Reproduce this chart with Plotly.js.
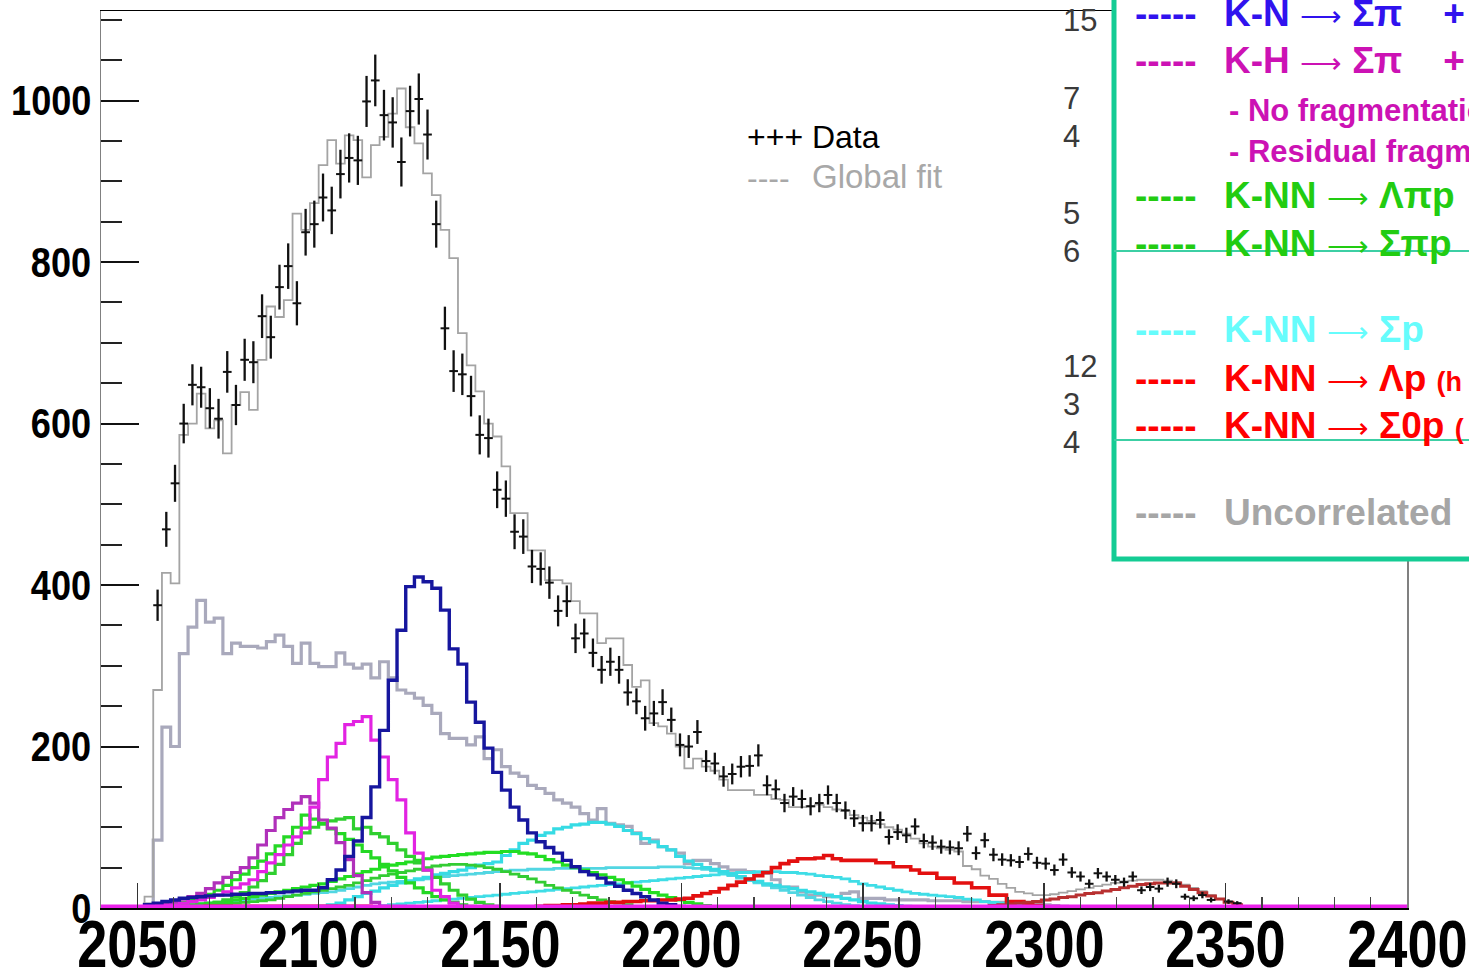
<!DOCTYPE html>
<html>
<head>
<meta charset="utf-8">
<script src="https://cdn.plot.ly/plotly-3.0.1.min.js"></script>
<style>
  html, body { margin: 0; padding: 0; background: #ffffff; overflow: hidden; }
  #plot { width: 1469px; height: 973px; }
</style>
</head>
<body>
<div id="plot"></div>
<script>
// Invariant-mass histograms: 150 bins of 2.4 MeV starting at 2040 MeV.
const BIN_LO = 2040;
const BIN_W = 2.4;

// Measured counts (first bin index = dataStart)
const dataStart = 6;
const dataCounts = [
  375, 469, 526, 600, 648, 645, 619, 606, 664, 623, 679, 676, 733, 707, 769, 795,
  749, 837, 847, 880, 864, 909, 929, 926, 999, 1025, 982, 973, 924, 987, 1002, 958,
  847, 718, 665, 661, 634, 586, 582, 518, 507, 466, 460, 423, 420, 403, 368, 380,
  334, 340, 316, 295, 305, 295, 267, 256, 235, 241, 255, 233, 202, 200, 218, 182,
  179, 163, 166, 175, 176, 189, 152, 147, 130, 138, 135, 126, 130, 140, 130, 121,
  111, 105, 105, 109, 88, 94, 90, 101, 83, 81, 76, 75, 74, 92, 68, 84,
  66, 60, 59, 57, 67, 56, 55, 47, 60, 44, 39, 30, 43, 39, 35, 32,
  39, 22, 26, 24, 32, 30, 14, 12, 16, 10, 2, 8, 6, 2
];

// Global fit
const fitStart = 5;
const fitCounts = [
  14, 270, 415, 402, 586, 600, 637, 594, 604, 563, 623, 639, 617, 679, 745, 732,
  753, 860, 840, 873, 920, 951, 922, 957, 951, 905, 945, 955, 984, 1015, 967, 947,
  910, 883, 840, 805, 712, 672, 640, 600, 584, 547, 489, 489, 443, 443, 406, 406,
  402, 380, 365, 365, 328, 334, 334, 301, 274, 282, 229, 225, 216, 200, 173, 185,
  175, 170, 159, 146, 146, 146, 140, 140, 135, 134, 125, 125, 126, 128, 125, 122,
  120, 115, 112, 108, 104, 100, 97, 92, 86, 80, 76, 74, 72, 70, 52, 48,
  40, 36, 30, 25, 20, 18, 16, 16, 17, 19, 21, 23, 25, 27, 29, 31,
  33, 34, 35, 35, 35, 34, 32, 29, 25, 21, 16, 11, 7, 3, 1
];

// Uncorrelated background
const uncorrStart = 5;
const uncorrCounts = [
  5, 84, 224, 200, 315, 348, 381, 354, 359, 315, 328, 324, 324, 322, 330, 338,
  324, 303, 328, 303, 299, 299, 316, 302, 297, 302, 285, 305, 285, 270, 266, 260,
  251, 241, 216, 210, 210, 202, 212, 185, 196, 175, 167, 163, 152, 148, 142, 134,
  130, 125, 117, 109, 123, 105, 103, 101, 93, 80, 84, 76, 72, 68, 55, 59,
  59, 55, 51, 47, 47, 45, 43, 43, 35, 26, 26, 20, 16, 16, 14, 14,
  18, 20, 12, 12, 12, 10, 10, 10, 10, 10, 9, 9, 9, 9, 8, 8,
  8, 7, 7, 6, 6, 5, 5, 4, 3, 2, 1
];

// K-N -> Sigma pi
const knStart = 5;
const knCounts = [
  4, 6, 8, 10, 12, 13, 14, 15, 16, 16, 17, 17, 18, 18, 19, 19,
  20, 21, 22, 22, 25, 35, 47, 64, 83, 112, 150, 220, 282, 344, 398, 410,
  404, 396, 369, 321, 302, 255, 230, 198, 168, 146, 125, 109, 93, 82, 75, 68,
  59, 51, 45, 41, 37, 31, 27, 22, 18, 14, 10, 6, 4, 2, 1
];

// K-H -> Sigma pi, no fragmentation
const khNoFragStart = 5;
const khNoFragCounts = [
  1, 2, 3, 4, 6, 8, 10, 13, 16, 20, 25, 30, 35, 45, 56, 66,
  78, 88, 99, 125, 159, 187, 204, 227, 231, 237, 208, 187, 159, 134, 93, 68,
  47, 22, 14, 6, 2
];

// K-H -> Sigma pi, residual fragment
const khResFragStart = 5;
const khResFragCounts = [
  2, 4, 6, 8, 11, 14, 18, 24, 31, 38, 44, 50, 62, 78, 96, 112,
  122, 130, 138, 130, 109, 99, 81, 60, 40, 19, 7, 2
];

// K-NN -> Lambda pi p
const knnLpipStart = 6;
const knnLpipCounts = [
  2, 3, 5, 7, 10, 13, 17, 22, 28, 35, 42, 50, 58, 67, 77, 88,
  100, 115, 110, 104, 98, 92, 85, 78, 70, 62, 54, 46, 38, 31, 25, 19,
  14, 10, 7, 4, 2, 1
];

// K-NN -> Sigma pi p
const knnSpipStart = 10;
const knnSpipCounts = [
  2, 3, 5, 7, 10, 14, 19, 26, 34, 43, 54, 66, 80, 93, 100, 105,
  108, 110, 112, 98, 100, 92, 88, 80, 72, 64, 56, 47, 38, 30, 22, 16,
  11, 7, 4, 2, 1
];

// K-NN -> Lambda pi p (broad)
const knnLpipBroadStart = 8;
const knnLpipBroadCounts = [
  2, 3, 4, 5, 6, 7, 8, 10, 12, 14, 16, 18, 20, 22, 24, 26,
  28, 30, 33, 36, 39, 42, 45, 48, 51, 53, 55, 57, 59, 61, 63, 64,
  65, 66, 67, 68, 69, 69, 70, 70, 68, 67, 64, 60, 57, 53, 50, 47,
  44, 41, 38, 35, 31, 27, 23, 19, 16, 13, 10, 7, 5, 3, 1
];

// K-NN -> Sigma pi p (broad)
const knnSpipBroadStart = 10;
const knnSpipBroadCounts = [
  1, 2, 3, 4, 5, 6, 7, 8, 9, 10, 12, 14, 16, 18, 20, 22,
  24, 26, 28, 31, 34, 37, 40, 42, 44, 46, 48, 50, 52, 53, 54, 54,
  53, 52, 50, 48, 45, 42, 39, 36, 32, 28, 25, 22, 19, 16, 13, 10,
  8, 6, 4, 2, 1
];

// K-NN -> Sigma p
const knnSpStart = 25;
const knnSpCounts = [
  2, 4, 6, 10, 14, 18, 21, 25, 28, 31, 33, 36, 38, 41, 43, 45,
  47, 50, 53, 55, 57, 65, 72, 80, 84, 90, 93, 98, 100, 103, 104, 106,
  106, 104, 101, 96, 92, 86, 82, 76, 72, 64, 58, 54, 50, 48, 45, 42,
  39, 36, 33, 30, 28, 26, 24, 22, 20, 18, 16, 14, 12, 10, 8, 6,
  5, 4, 3, 2, 1
];

// K-NN -> Sigma p (second component)
const knnSp2Start = 8;
const knnSp2Counts = [
  2, 3, 4, 5, 6, 7, 8, 9, 10, 11, 12, 13, 14, 15, 16, 17,
  18, 19, 20, 22, 24, 26, 28, 30, 31, 32, 33, 34, 35, 36, 38, 39,
  40, 41, 42, 43, 44, 45, 46, 47, 47, 48, 48, 48, 49, 49, 49, 49,
  49, 49, 50, 50, 50, 50, 50, 50, 51, 51, 51, 50, 49, 48, 46, 43,
  40, 37, 34, 31, 28, 25, 22, 19, 16, 13, 10, 8, 6, 4, 3, 2, 1
];

// K-NN -> Sigma p (high-mass component)
const knnSp3Start = 30;
const knnSp3Counts = [
  1, 2, 3, 4, 5, 6, 7, 8, 9, 10, 11, 12, 13, 14, 15, 16,
  17, 18, 19, 20, 21, 22, 23, 24, 25, 26, 27, 28, 29, 30, 31, 32,
  33, 34, 35, 36, 37, 38, 39, 40, 41, 42, 43, 44, 44, 45, 45, 45,
  44, 44, 43, 42, 40, 39, 38, 36, 33, 30, 28, 26, 24, 22, 20, 18,
  17, 16, 15, 14, 13, 11, 10, 8, 7, 6, 5, 4, 3, 3, 2, 2, 1, 1
];

// K-NN -> Lambda p
const knnLpStart = 50;
const knnLpCounts = [
  2, 3, 3, 4, 4, 5, 6, 6, 7, 7, 8, 8, 9, 9, 10, 10,
  11, 12, 15, 18, 20, 24, 28, 32, 36, 40, 44, 50, 55, 58, 61, 61,
  62, 65, 61, 59, 59, 59, 59, 56, 56, 51, 51, 47, 43, 43, 37, 37,
  31, 31, 25, 25, 16, 16, 8, 8, 5, 3, 1
];

// K-NN -> Sigma0 p
const knnS0pStart = 100;
const knnS0pCounts = [
  1, 2, 3, 4, 5, 6, 7, 8, 10, 11, 13, 14, 16, 18, 19, 21,
  23, 25, 27, 29, 30, 31, 31, 31, 27, 23, 19, 15, 11, 7, 4, 2, 1
];

// K-NN -> Lambda p, low-mass tail
const knnLpLowStart = 6;
const knnLpLowCounts = [
  1, 1, 1, 1, 1, 1, 2, 2, 2, 2, 2, 2, 2, 2, 2, 2,
  2, 2, 2, 2, 2, 2, 2, 2, 2, 1, 1, 1
];

// K-H -> Sigma pi, zero-valued over the whole range
const khZeroStart = 0;
const khZeroCounts = [
  0,0,0,0,0,0,0,0,0,0,0,0,0,0,0,0,0,0,0,0,0,0,0,0,0,0,0,0,0,0,
  0,0,0,0,0,0,0,0,0,0,0,0,0,0,0,0,0,0,0,0,0,0,0,0,0,0,0,0,0,0,
  0,0,0,0,0,0,0,0,0,0,0,0,0,0,0,0,0,0,0,0,0,0,0,0,0,0,0,0,0,0,
  0,0,0,0,0,0,0,0,0,0,0,0,0,0,0,0,0,0,0,0,0,0,0,0,0,0,0,0,0,0,
  0,0,0,0,0,0,0,0,0,0,0,0,0,0,0,0,0,0,0,0,0,0,0,0,0,0,0,0,0,0
];

// Axis tick labels
const xTickVals = [2050, 2100, 2150, 2200, 2250, 2300, 2350, 2400];
const yTickVals = [0, 200, 400, 600, 800, 1000];

// ---------- helpers ----------
const edge = k => BIN_LO + k * BIN_W;
const center = k => BIN_LO + (k + 0.5) * BIN_W;

function histTrace(start, counts, color, width) {
  const xs = [edge(start)], ys = [0];
  counts.forEach((c, i) => { xs.push(edge(start + i)); ys.push(c); });
  xs.push(edge(start + counts.length)); ys.push(counts[counts.length - 1]);
  xs.push(edge(start + counts.length)); ys.push(0);
  return {
    type: 'scatter', mode: 'lines', x: xs, y: ys,
    line: { shape: 'hv', color: color, width: width },
    hoverinfo: 'skip', showlegend: false
  };
}

const traces = [
  histTrace(uncorrStart, uncorrCounts, '#a9a9bc', 3.2),
  histTrace(fitStart, fitCounts, '#a4a4a4', 1.8),
  histTrace(knnSp2Start, knnSp2Counts, '#52d6e2', 2.8),
  histTrace(knnSp3Start, knnSp3Counts, '#3fdde6', 2.8),
  histTrace(knnSpStart, knnSpCounts, '#36dbe4', 3.2),
  histTrace(knnSpipBroadStart, knnSpipBroadCounts, '#33cc33', 2.8),
  histTrace(knnLpipBroadStart, knnLpipBroadCounts, '#22dd22', 3.2),
  histTrace(knnSpipStart, knnSpipCounts, '#2fcf2f', 3.2),
  histTrace(knnLpipStart, knnLpipCounts, '#24d824', 3.2),
  histTrace(knnLpLowStart, knnLpLowCounts, '#ee1111', 4),
  histTrace(knnLpStart, knnLpCounts, '#e31010', 3.6),
  histTrace(knnS0pStart, knnS0pCounts, '#b83030', 3),
  histTrace(khResFragStart, khResFragCounts, '#b030ba', 3.2),
  histTrace(khNoFragStart, khNoFragCounts, '#e223e2', 3.2),
  histTrace(knStart, knCounts, '#16169e', 3.4)
];

// Data points with Poisson errors
const dataX = dataCounts.map((_, i) => center(dataStart + i));
traces.push({
  type: 'scatter', mode: 'markers', x: dataX, y: dataCounts,
  marker: { size: 2, color: '#111111' },
  error_y: { type: 'data', array: dataCounts.map(c => Math.sqrt(c)), color: '#111111', thickness: 2.3, width: 0 },
  error_x: { type: 'constant', value: BIN_W / 2, color: '#111111', thickness: 2, width: 0 },
  hoverinfo: 'skip', showlegend: false
});

traces.push(histTrace(khZeroStart, khZeroCounts, '#ea22ea', 7));

// ---------- layout ----------
const W = 1469, H = 973;
const M = { l: 101, r: 62, t: 11, b: 65 };
const PW = W - M.l - M.r, PH = H - M.t - M.b;
const px = x => (x - M.l) / PW;
const py = y => (H - M.b - y) / PH;

const sansFont = 'Liberation Sans, Arial, Helvetica, sans-serif';

function note(text, x, y, color, size, anchor) {
  return {
    text: text, xref: 'paper', yref: 'paper', x: px(x), y: py(y),
    xanchor: anchor || 'left', yanchor: 'middle', showarrow: false,
    font: { family: sansFont, size: size, color: color }
  };
}

const annotations = [];
// Bold, horizontally condensed tick labels (condensed after drawing)
const condensed = [];
xTickVals.forEach(v => {
  condensed.push({ index: annotations.length, scale: 0.82, origin: 'center' });
  annotations.push({
    text: '<b>' + v + '</b>', xref: 'x', yref: 'paper', x: v, y: py(944),
    xanchor: 'center', yanchor: 'middle', showarrow: false,
    font: { family: sansFont, size: 66, color: '#000000' }
  });
});
yTickVals.forEach(v => {
  condensed.push({ index: annotations.length, scale: 0.86, origin: 'right' });
  annotations.push({
    text: '<b>' + v + '</b>', xref: 'paper', yref: 'y', x: px(93), y: v,
    xanchor: 'right', yanchor: 'middle', showarrow: false,
    font: { family: sansFont, size: 42, color: '#000000' }
  });
});

annotations.push(
  note('+++ Data', 745, 137, '#000000', 32),
  note('----', 745, 178, '#a8a8a8', 32),
  note('Global fit', 810, 176, '#a8a8a8', 33),
  note('15', 1061, 21, '#3a3a3a', 31),
  note('7', 1061, 98, '#3a3a3a', 31),
  note('4', 1061, 136, '#3a3a3a', 31),
  note('5', 1061, 213, '#3a3a3a', 31),
  note('6', 1061, 251, '#3a3a3a', 31),
  note('12', 1061, 366, '#3a3a3a', 31),
  note('3', 1061, 404, '#3a3a3a', 31),
  note('4', 1061, 442, '#3a3a3a', 31)
);

const NB = '\u00a0';
const ARROW = '<span style="font-size:29px">⟶</span>';
const legendRows = [
  { y: 14, color: '#3012ee', text: '<b>K-N</b> ' + ARROW + ' <b>Σπ</b>' + NB.repeat(4) + '<b>+</b>' },
  { y: 60, color: '#cc12b4', text: '<b>K-H</b> ' + ARROW + ' <b>Σπ</b>' + NB.repeat(4) + '<b>+</b>' },
  { y: 195, color: '#22cc11', text: '<b>K-NN</b> ' + ARROW + ' <b>Λπp</b>' },
  { y: 243, color: '#22cc11', text: '<b>K-NN</b> ' + ARROW + ' <b>Σπp</b>' },
  { y: 329, color: '#66fcfc', text: '<b>K-NN</b> ' + ARROW + ' <b>Σp</b>' + NB.repeat(5) + '<b>+</b>' },
  { y: 378, color: '#ff0000', text: '<b>K-NN</b> ' + ARROW + ' <b>Λp</b> <b><span style="font-size:27px">(h</span></b>' },
  { y: 425, color: '#ff0000', text: '<b>K-NN</b> ' + ARROW + ' <b>Σ0p</b> <b><span style="font-size:27px">(</span></b>' },
  { y: 512, color: '#a6a6a6', text: '<b>Uncorrelated</b>' }
];
legendRows.forEach(r => {
  annotations.push(note('<b>-----</b>', 1133, r.y, r.color, 37));
  annotations.push(note(r.text, 1222, r.y, r.color, 37));
});
annotations.push(note('<b>- No fragmentation</b>', 1227, 110, '#cc12b4', 31));
annotations.push(note('<b>- Residual fragment</b>', 1227, 151, '#cc12b4', 31));

const shapes = [
  { type: 'rect', xref: 'paper', yref: 'paper', x0: px(1114), x1: px(1500), y0: py(559), y1: py(-30),
    line: { color: '#14cc94', width: 5 }, fillcolor: '#ffffff', layer: 'above' },
  { type: 'line', xref: 'paper', yref: 'paper', x0: px(1114), x1: px(1475), y0: py(251), y1: py(251),
    line: { color: '#3ccfa4', width: 2 }, layer: 'above' },
  { type: 'line', xref: 'paper', yref: 'paper', x0: px(1114), x1: px(1475), y0: py(440), y1: py(440),
    line: { color: '#3ccfa4', width: 2 }, layer: 'above' }
];

const layout = {
  width: W, height: H, autosize: false,
  margin: M,
  paper_bgcolor: '#ffffff', plot_bgcolor: '#ffffff',
  showlegend: false,
  xaxis: {
    range: [BIN_LO, 2400], showgrid: false, zeroline: false,
    showline: true, linecolor: '#000000', linewidth: 1.5, mirror: true,
    tickmode: 'array', tickvals: xTickVals, showticklabels: false,
    ticks: 'inside', ticklen: 25, tickwidth: 1.5, tickcolor: '#333333',
    minor: { dtick: 10, ticks: 'inside', ticklen: 11, tickwidth: 1.3, tickcolor: '#444444', showgrid: false }
  },
  yaxis: {
    range: [0, 1111], showgrid: false, zeroline: false,
    showline: true, linecolor: '#808080', linewidth: 1.5, mirror: true,
    tickmode: 'array', tickvals: yTickVals, showticklabels: false,
    ticks: 'inside', ticklen: 38, tickwidth: 2, tickcolor: '#111111',
    minor: { dtick: 50, ticks: 'inside', ticklen: 21, tickwidth: 2, tickcolor: '#222222', showgrid: false }
  },
  annotations: annotations,
  shapes: shapes
};

Plotly.newPlot('plot', traces, layout, { displayModeBar: false, staticPlot: true }).then(gd => {
  // Condense the tick label glyphs horizontally around their anchor
  condensed.forEach(c => {
    const t = gd.querySelector('g.annotation[data-index="' + c.index + '"] text');
    if (!t) return;
    const b = t.getBBox();
    const ox = c.origin === 'right' ? b.x + b.width : b.x + b.width / 2;
    const old = t.getAttribute('transform') || '';
    t.setAttribute('transform',
      'translate(' + ox + ',0) scale(' + c.scale + ',1) translate(' + (-ox) + ',0) ' + old);
  });
});
</script>
</body>
</html>
